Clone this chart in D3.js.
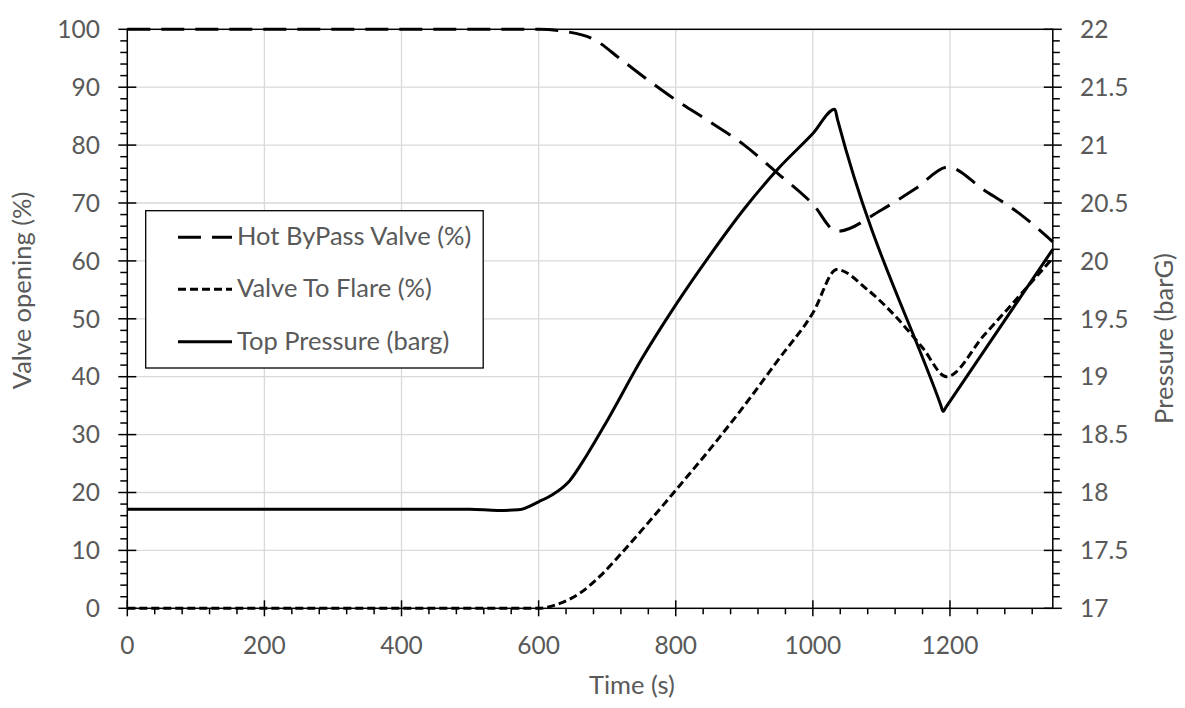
<!DOCTYPE html>
<html><head><meta charset="utf-8">
<script src="https://cdn.jsdelivr.net/npm/d3@7"></script>
<style>
html,body{margin:0;padding:0;background:#fff;}
svg text{font-family:Lato,"Open Sans",sans-serif;fill:#595959;}
</style></head>
<body><svg id="c" width="1185" height="708"></svg>
<script>
// ---- data ----
const hotTime  = [0, 600, 640, 680, 720, 760, 800, 850, 900, 950, 1000, 1035, 1100, 1150, 1197, 1250, 1300, 1350];
const hotValue = [100, 100, 99.6, 98.3, 94.8, 91.2, 87.8, 84, 80, 75, 69.8, 65.1, 68.8, 72.5, 76.2, 72.2, 68.3, 63.3];

const flareTime  = [0, 600, 630, 660, 690, 720, 760, 800, 850, 900, 950, 1000, 1035, 1080, 1120, 1160, 1195, 1250, 1300, 1350];
const flareValue = [0, 0, 0.8, 2.6, 5.6, 9.4, 14.8, 20.4, 27.5, 35, 43, 51, 58.5, 55, 50.5, 45, 40, 47.2, 53.8, 60.5];

const presTime  = [0, 500, 540, 570, 600, 620, 645, 670, 700, 750, 800, 850, 900, 950, 1000, 1032, 1036, 1186, 1190, 1194, 1350];
const presValue = [17.855, 17.855, 17.845, 17.85, 17.92, 17.98, 18.1, 18.32, 18.62, 19.15, 19.62, 20.05, 20.45, 20.8, 21.1, 21.31, 21.22, 18.765, 18.7, 18.735, 20.1];

const xTicks = [0, 200, 400, 600, 800, 1000, 1200];
const yLeftTicks = [0, 10, 20, 30, 40, 50, 60, 70, 80, 90, 100];
const yRightTicks = [17, 17.5, 18, 18.5, 19, 19.5, 20, 20.5, 21, 21.5, 22];
const seriesNames = ["Hot ByPass Valve (%)", "Valve To Flare (%)", "Top Pressure (barg)"];
const xTitle = "Time (s)", yLeftTitle = "Valve opening (%)", yRightTitle = "Pressure (barG)";

// ---- layout ----
const L = 127.3, R = 1052.8, T = 29.3, B = 608.3;
const svg = d3.select("#c");
const x = d3.scaleLinear().domain([0, 1350]).range([L, R]);
const yL = d3.scaleLinear().domain([0, 100]).range([B, T]);
const yR = d3.scaleLinear().domain([17, 22]).range([B, T]);

// gridlines
const grid = svg.append("g").attr("stroke", "#d9d9d9").attr("stroke-width", 1.3);
xTicks.filter(d => d > 0).forEach(d => grid.append("line").attr("x1", x(d)).attr("x2", x(d)).attr("y1", T).attr("y2", B));
yLeftTicks.filter(d => d > 0 && d < 100).forEach(d => grid.append("line").attr("x1", L).attr("x2", R).attr("y1", yL(d)).attr("y2", yL(d)));

// frame
svg.append("rect").attr("x", L).attr("y", T).attr("width", R - L).attr("height", B - T)
  .attr("fill", "none").attr("stroke", "#000").attr("stroke-width", 1.5);

// series
const mk = (tt, vv, ys) => d3.line().x((d, i) => x(tt[i])).y((d, i) => ys(vv[i])).curve(d3.curveMonotoneX)(vv);
svg.append("path").attr("d", mk(hotTime, hotValue, yL)).attr("fill", "none").attr("stroke", "#000").attr("stroke-width", 3).attr("stroke-dasharray", "23,11");
svg.append("path").attr("d", mk(flareTime, flareValue, yL)).attr("fill", "none").attr("stroke", "#000").attr("stroke-width", 3).attr("stroke-dasharray", "8,4");
svg.append("path").attr("d", mk(presTime, presValue, yR)).attr("fill", "none").attr("stroke", "#000").attr("stroke-width", 3);

// axes
const fs = 24.5, fsT = 25.5;
const ax = svg.append("g").attr("stroke", "#000").attr("stroke-width", 1.5);
d3.range(0, 1351, 40).forEach(d => {
  const major = d % 200 === 0;
  ax.append("line").attr("x1", x(d)).attr("x2", x(d)).attr("y1", major ? B - 8 : B).attr("y2", major ? B + 8 : B + 6);
});
xTicks.forEach(d => svg.append("text").attr("x", x(d)).attr("y", 654).attr("text-anchor", "middle").attr("font-size", fs).text(d));
d3.range(0, 101, 2).forEach(d => {
  const major = d % 10 === 0;
  ax.append("line").attr("y1", yL(d)).attr("y2", yL(d)).attr("x1", major ? L - 9 : L - 7).attr("x2", major ? L + 9 : L);
});
yLeftTicks.forEach(d => svg.append("text").attr("x", 100).attr("y", yL(d) + 8.7).attr("text-anchor", "end").attr("font-size", fs).text(d));
d3.range(170, 221, 1).forEach(k => {
  const d = k / 10, major = k % 5 === 0;
  ax.append("line").attr("y1", yR(d)).attr("y2", yR(d)).attr("x1", major ? R - 9 : R).attr("x2", major ? R + 9 : R + 7);
});
yRightTicks.forEach(d => svg.append("text").attr("x", 1080).attr("y", yR(d) + 8.7).attr("text-anchor", "start").attr("font-size", fs).text(d));

// titles
svg.append("text").attr("x", 589).attr("y", 694).attr("text-anchor", "start").attr("font-size", fsT).text(xTitle);
svg.append("text").attr("transform", "translate(31,290.5) rotate(-90)").attr("text-anchor", "middle").attr("font-size", fsT).text(yLeftTitle);
svg.append("text").attr("transform", "translate(1173,338.5) rotate(-90)").attr("text-anchor", "middle").attr("font-size", fsT).text(yRightTitle);

// legend
const lg = svg.append("g");
const lgTexts = [];
const dashes = ["23,11", "8,4", null];
const rowY = [237.3, 289.3, 341.7];
seriesNames.forEach((n, i) => {
  const ln = lg.append("line").attr("x1", 178).attr("x2", 232).attr("y1", rowY[i]).attr("y2", rowY[i]).attr("stroke", "#000").attr("stroke-width", 3);
  if (dashes[i]) ln.attr("stroke-dasharray", dashes[i]);
  lgTexts.push(lg.append("text").attr("x", 237).attr("y", rowY[i] + 8).attr("font-size", fsT).text(n));
});
const maxW = d3.max(lgTexts, t => t.node().getComputedTextLength());
lg.insert("rect", ":first-child").attr("x", 145.7).attr("y", 210.7).attr("width", 237 + maxW + 12 - 145.7).attr("height", 368 - 210.7)
  .attr("fill", "#fff").attr("stroke", "#000").attr("stroke-width", 1.3);
</script></body></html>
